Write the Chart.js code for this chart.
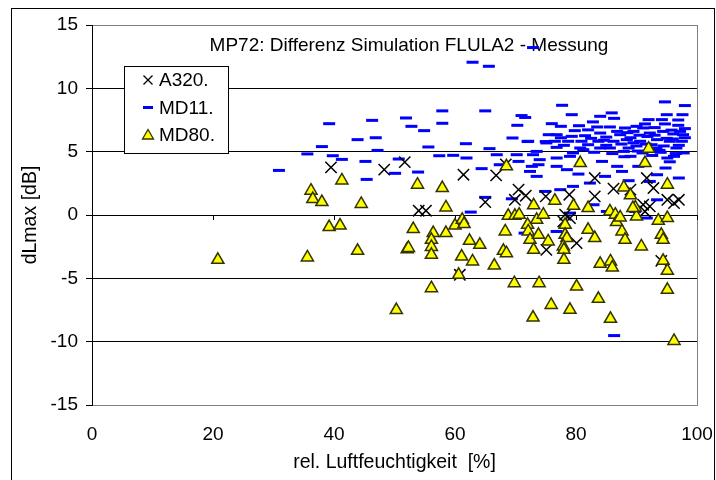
<!DOCTYPE html>
<html>
<head>
<meta charset="utf-8">
<script src="https://cdn.jsdelivr.net/npm/chart.js@4/dist/chart.umd.min.js"></script>
<style>
html,body{margin:0;padding:0;background:#fff;}
canvas{display:block;}
</style>
</head>
<body>
<canvas id="c" width="716" height="480"></canvas>
<script>
const chartTitle = 'MP72: Differenz Simulation FLULA2 - Messung';
const xTitle = 'rel. Luftfeuchtigkeit  [%]';
const yTitle = 'dLmax [dB]';
const seriesNames = ['A320.', 'MD11.', 'MD80.'];
const xTicks = [0, 20, 40, 60, 80, 100];
const yTicks = [-15, -10, -5, 0, 5, 10, 15];

const a320 = [
  [39.5,3.76],[48.3,3.58],[51.7,4.17],[54.0,0.34],[55.2,0.34],[61.4,3.18],[66.8,3.13],
  [60.8,-4.72],[65.0,1.02],[69.9,1.2],[70.5,2.0],[71.7,1.52],[75.0,1.47],[68.4,4.0],
  [75.1,-2.75],[80.1,-2.22],[78.9,1.6],[83.1,2.92],[83.1,1.47],[86.2,2.08],[89.0,2.0],
  [91.7,2.92],[92.8,2.13],[91.1,0.81],[92.2,0.68],[91.4,0.28],[95.1,1.2],[96.2,0.94],
  [97.0,1.2],[78.2,0.02],[79.0,-0.24],[77.9,-0.51],[94.1,-3.62]
];

const md11 = [
  [30.9,3.52],[35.6,4.82],[38.0,5.40],[39.2,7.21],[39.8,4.68],[41.3,4.39],[43.9,5.95],
  [46.9,6.1],[46.3,7.47],[47.2,5.1],[45.2,4.23],[45.4,2.81],[50.1,3.29],[50.7,4.42],
  [52.8,7.0],[62.9,12.06],[65.6,11.74],[72.9,13.22],[51.9,7.66],[54.9,6.66],[57.9,8.22],
  [57.9,7.24],[65.0,8.22],[71.0,7.85],[71.6,7.7],[70.3,7.08],[76.0,7.21],[61.8,5.63],
  [69.5,6.08],[94.7,8.93],[98.0,8.64],[77.7,8.66],[79.3,7.92],[85.9,8.06],[84.0,7.79],
  [86.3,7.63],[95.0,7.92],[97.6,7.92],[82.8,7.35],[92.0,7.53],[94.2,7.53],[96.9,7.5],
  [91.4,7.19],[94.7,7.19],[96.9,7.08],[85.6,6.95],[88.1,6.87],[79.8,6.66],[82.0,6.72],
  [98.0,6.82],[55.6,5.37],[57.4,4.68],[59.7,4.71],[61.9,4.5],[64.4,3.66],[65.7,5.24],
  [66.9,4.76],[67.4,3.97],[70.2,4.76],[70.5,4.23],[72.1,5.82],[72.4,3.44],[73.5,5.02],
  [73.8,3.97],[73.5,3.05],[53.9,3.39],[65.0,1.39],[69.4,1.28],[62.6,0.23],[71.5,-1.43],
  [74.9,1.86],[79.0,4.63],[76.8,3.84],[78.5,3.58],[80.4,3.23],[77.4,2.0],[79.5,2.26],
  [82.3,2.52],[84.8,3.05],[87.6,3.44],[88.7,2.71],[84.3,4.23],[86.8,3.84],[90.3,3.84],
  [93.4,3.18],[94.8,3.71],[97.0,2.92],[92.2,2.65],[95.1,4.5],[96.2,4.63],[82.9,0.81],
  [85.1,0.28],[91.7,-0.24],[89.8,0.28],[93.4,1.2],[79.0,0.15],[76.8,-1.3],[81.2,5.16],
  [85.6,5.29],[87.9,5.02],[89.0,4.63],[76.8,4.5],[86.3,-9.52],
  [76.8,6.34],[79.3,6.21],[81.5,6.26],[84.0,6.47],[87.3,6.34],[89.5,6.6],[91.1,6.87],
  [92.2,6.47],[94.4,6.6],[96.1,6.4],[76.5,5.82],[78.7,5.82],[80.9,5.82],[83.7,5.82],
  [86.2,5.82],[88.4,5.95],[90.6,5.82],[93.4,5.95],[95.5,5.82],[97.5,5.82],[76.8,5.34],
  [80.7,5.29],[84.0,5.29],[88.7,5.29],[93.3,5.29],[96.6,5.29],[97.7,6.34],
  [72.9,4.76],[74.0,4.37],[75.1,5.69],[72.7,3.84],[72.0,5.8],[75.0,5.8],[75.5,6.34],
  [77.5,7.0],[80.5,7.05],[83.5,6.95],[90.0,7.0],[93.0,6.9],[77.5,6.1],[82.5,6.05],
  [85.0,6.15],[89.0,6.1],[91.8,6.2],[95.0,6.05],[98.0,6.1],[78.0,5.5],[82.0,5.55],
  [85.0,5.5],[87.5,5.6],[90.0,5.45],[92.5,5.55],[94.5,5.45],[97.0,5.5],[79.5,4.9],
  [83.0,4.95],[86.0,4.85],[91.0,4.9],[94.0,4.95],[96.5,4.85],
  [88.5,6.5],[90.5,6.3],[93.0,6.3],[95.8,6.7],[97.2,6.6],[89.5,5.7],[91.5,5.6],
  [96.0,6.0],[93.8,5.1],[90.2,5.05],[88.0,4.6],[92.6,4.7],[95.5,4.2],[97.8,4.9],
  [86.8,6.6],[84.6,5.9]
];

const md80 = [
  [20.8,-3.54],[35.6,-3.35],[36.2,1.92],[36.5,1.26],[38.0,1.02],[39.2,-0.95],[41.0,-0.83],
  [41.3,2.73],[44.5,0.87],[43.9,-2.83],[50.3,-7.5],[52.1,-2.7],[53.8,2.39],[57.9,2.13],
  [58.5,0.6],[68.5,3.84],[53.1,-1.11],[56.4,-1.43],[56.1,-1.96],[58.5,-1.43],[60.0,-0.83],
  [61.2,-0.38],[61.5,-0.72],[62.4,-2.04],[64.1,-2.35],[68.3,-1.3],[68.8,-0.06],[69.9,-0.06],
  [70.6,0.02],[72.0,-0.77],[72.1,-1.3],[72.4,-1.96],[73.0,0.76],[73.5,-0.38],[74.6,0.02],
  [73.8,-1.56],[75.4,-2.09],[52.3,-2.6],[56.1,-2.52],[56.1,-3.14],[61.1,-3.28],[62.9,-3.67],
  [66.5,-3.99],[68.0,-2.83],[68.5,-3.01],[73.0,-2.75],[60.6,-4.72],[56.1,-5.78],[69.8,-5.38],
  [73.9,-5.38],[72.9,-8.1],[75.9,-7.1],[92.0,5.24],[91.4,4.1],[80.7,4.1],[95.1,2.39],
  [87.9,2.18],[89.0,1.55],[76.5,1.13],[79.6,0.73],[82.0,0.55],[85.6,0.28],[86.5,0.02],
  [86.7,-0.56],[87.3,-0.19],[89.8,0.6],[90.0,-0.12],[89.4,0.55],[93.6,-0.45],[95.1,-0.24],
  [78.2,-0.77],[78.2,-1.56],[78.5,-1.82],[82.0,-1.17],[83.1,-1.82],[87.6,-1.3],[88.1,-1.96],
  [90.8,-2.48],[94.1,-1.56],[94.4,-1.96],[77.9,-2.48],[78.0,-2.75],[78.0,-3.54],[84.0,-3.85],
  [85.7,-3.67],[86.0,-4.15],[94.4,-3.62],[95.1,-4.41],[80.1,-5.65],[79.0,-7.49],[83.7,-6.62],
  [85.7,-8.2],[95.1,-5.91],[96.2,-9.94]
];

const FONT = '"Liberation Sans", Arial, sans-serif';
const toXY = arr => arr.map(p => ({x: p[0], y: p[1]}));

const decor = {
  id: 'decor',
  beforeDatasetsDraw(chart) {
    const {ctx, chartArea: a, scales: {x, y}} = chart;
    ctx.save();
    ctx.strokeStyle = '#808080';
    ctx.lineWidth = 1;
    ctx.beginPath();
    ctx.moveTo(Math.round(a.right) + 0.5, a.top);
    ctx.lineTo(Math.round(a.right) + 0.5, a.bottom);
    ctx.stroke();
    const y0 = Math.round(y.getPixelForValue(0));
    ctx.strokeStyle = '#000';
    ctx.beginPath();
    xTicks.forEach(v => {
      const px = Math.round(x.getPixelForValue(v)) + 0.5;
      ctx.moveTo(px, y0);
      ctx.lineTo(px, y0 + 5);
    });
    ctx.stroke();
    ctx.fillStyle = '#000';
    ctx.font = '19px ' + FONT;
    ctx.textAlign = 'center';
    ctx.textBaseline = 'middle';
    ctx.fillText(chartTitle, 409, 46);
    ctx.restore();
  },
  afterDatasetsDraw(chart) {
    const {ctx} = chart;
    ctx.save();
    const bx = 124.5, by = 66.5, bw = 104, bh = 87;
    ctx.fillStyle = '#fff';
    ctx.fillRect(bx, by, bw, bh);
    ctx.strokeStyle = '#000';
    ctx.lineWidth = 1;
    ctx.strokeRect(bx, by, bw, bh);
    const rows = [80, 107.5, 135];
    const mx = 148;
    ctx.strokeStyle = '#000';
    ctx.lineWidth = 1.3;
    ctx.beginPath();
    ctx.moveTo(mx - 4.5, rows[0] - 4.5); ctx.lineTo(mx + 4.5, rows[0] + 4.5);
    ctx.moveTo(mx + 4.5, rows[0] - 4.5); ctx.lineTo(mx - 4.5, rows[0] + 4.5);
    ctx.stroke();
    ctx.strokeStyle = '#0000FF';
    ctx.lineWidth = 3;
    ctx.beginPath();
    ctx.moveTo(mx - 5, rows[1]); ctx.lineTo(mx + 5, rows[1]);
    ctx.stroke();
    ctx.fillStyle = '#FFFF00';
    ctx.strokeStyle = '#333300';
    ctx.lineWidth = 1.3;
    ctx.beginPath();
    ctx.moveTo(mx, rows[2] - 5.5);
    ctx.lineTo(mx + 5.5, rows[2] + 4);
    ctx.lineTo(mx - 5.5, rows[2] + 4);
    ctx.closePath();
    ctx.fill(); ctx.stroke();
    ctx.fillStyle = '#000';
    ctx.font = '19px ' + FONT;
    ctx.textAlign = 'left';
    ctx.textBaseline = 'middle';
    seriesNames.forEach((n, i) => ctx.fillText(n, 159, rows[i] + 1));
    ctx.restore();
  },
  afterDraw(chart) {
    const {ctx} = chart;
    ctx.save();
    ctx.strokeStyle = '#000';
    ctx.lineWidth = 1;
    ctx.strokeRect(11.5, 8.5, 703, 480);
    ctx.restore();
  }
};

new Chart(document.getElementById('c'), {
  type: 'scatter',
  data: {
    datasets: [
      {label: seriesNames[0], data: toXY(a320), order: 1, pointStyle: 'crossRot',
       pointRadius: 8, pointBorderWidth: 1.5, borderColor: '#000', backgroundColor: '#000'},
      {label: seriesNames[1], data: toXY(md11), order: 2, pointStyle: 'line',
       pointRadius: 6, pointBorderWidth: 3, borderColor: '#0000FF', backgroundColor: '#0000FF'},
      {label: seriesNames[2], data: toXY(md80), order: 0, pointStyle: 'triangle',
       pointRadius: 7, pointBorderWidth: 1.5, borderColor: '#333300', backgroundColor: '#FFFF00'}
    ]
  },
  options: {
    responsive: false,
    animation: false,
    events: [],
    layout: {padding: {top: 25, right: 19, bottom: 0, left: 0}},
    plugins: {legend: {display: false}, tooltip: {enabled: false}, title: {display: false}},
    scales: {
      x: {
        type: 'linear', min: 0, max: 100,
        afterBuildTicks(s) { s.ticks = xTicks.map(v => ({value: v})); },
        afterFit(s) { s.height = 75; },
        ticks: {color: '#000', font: {size: 19, family: FONT}, padding: 0, maxRotation: 0},
        grid: {drawOnChartArea: false, drawTicks: true, tickLength: 18, tickColor: 'rgba(0,0,0,0)'},
        border: {color: '#808080', width: 1},
        title: {display: true, text: xTitle, color: '#000', font: {size: 19.5, family: FONT}, padding: {bottom: 6, top: 0}}
      },
      y: {
        min: -15, max: 15,
        afterBuildTicks(s) { s.ticks = yTicks.map(v => ({value: v})); },
        afterFit(s) { s.width = 92; },
        ticks: {color: '#000', font: {size: 19, family: FONT}, padding: 8},
        grid: {
          color: c => (Math.abs(c.tick.value) === 15 ? '#808080' : '#000'),
          tickColor: '#000', tickLength: 6, lineWidth: 1
        },
        border: {color: '#000', width: 1},
        title: {display: true, text: yTitle, color: '#000', font: {size: 19.5, family: FONT}, padding: {top: 19, bottom: 0}}
      }
    }
  },
  plugins: [decor]
});
</script>
</body>
</html>
